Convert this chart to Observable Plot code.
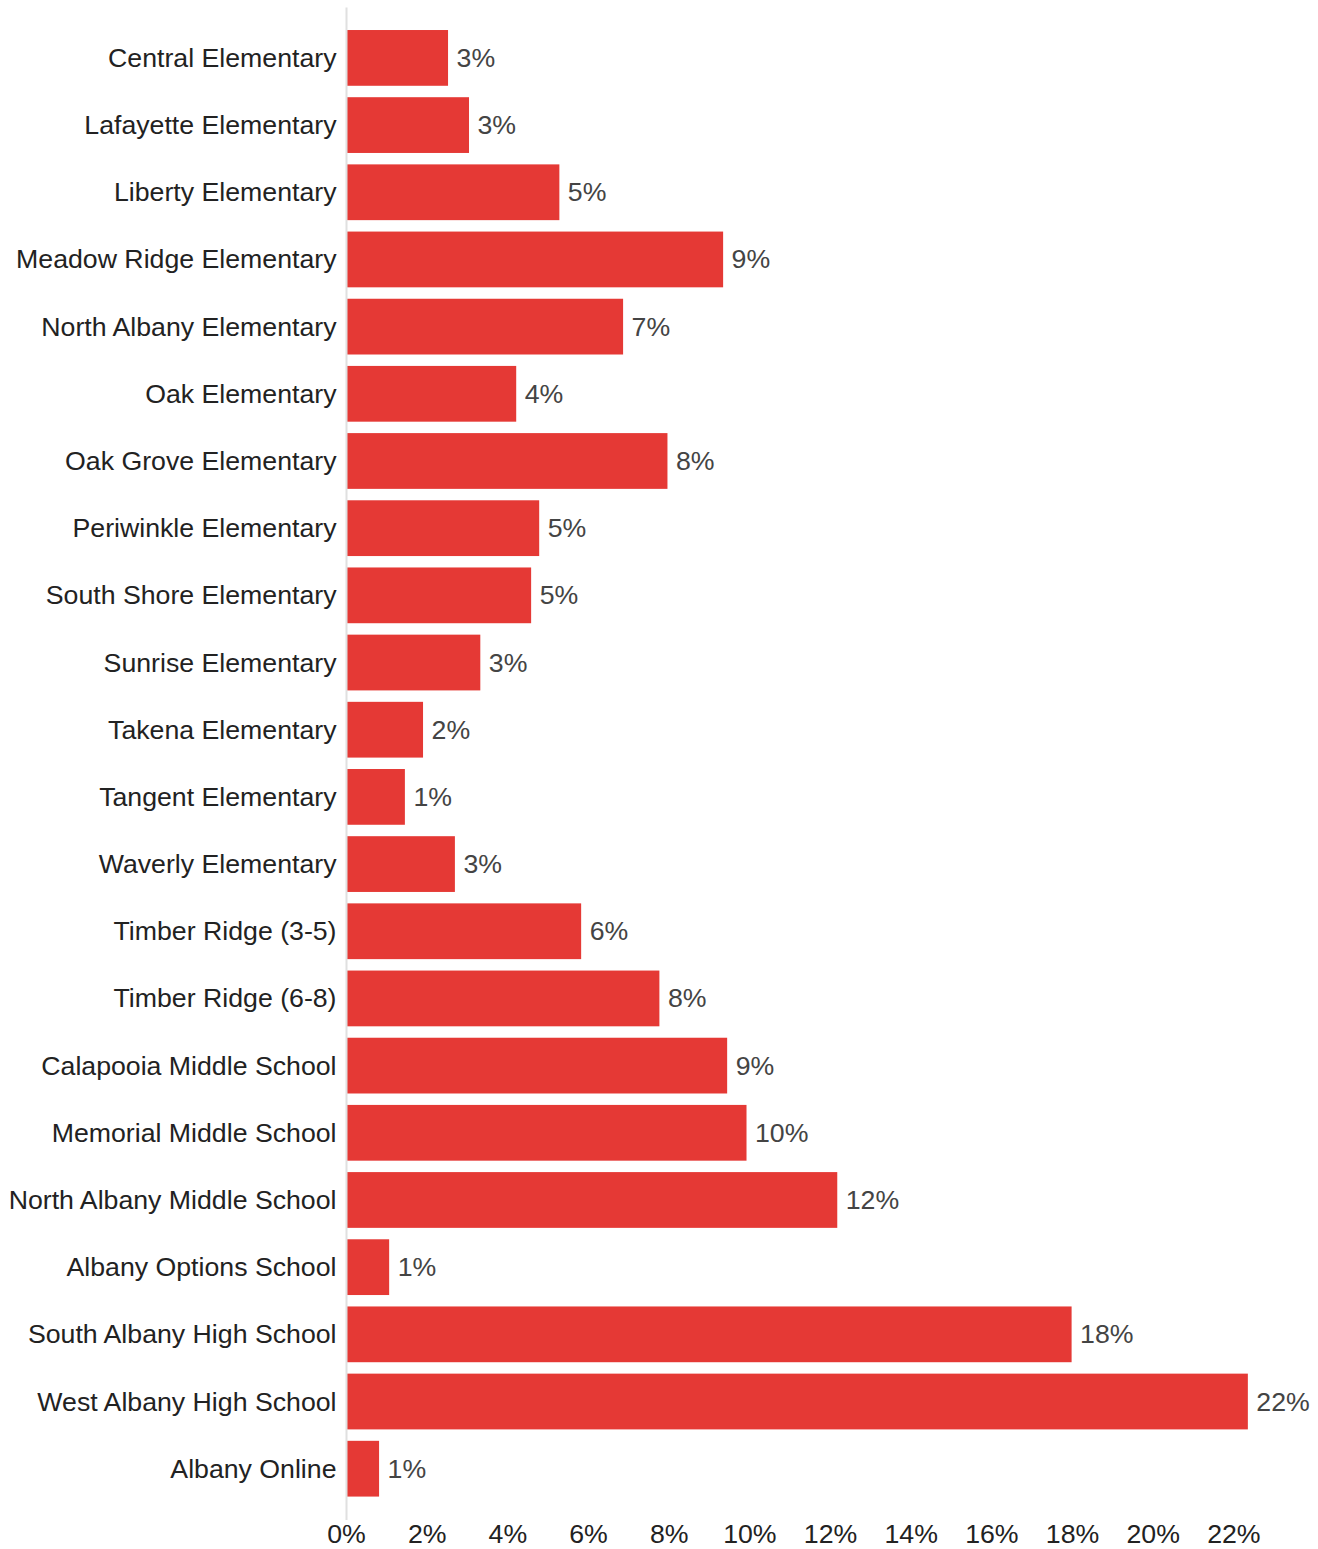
<!DOCTYPE html>
<html>
<head>
<meta charset="utf-8">
<script src="https://cdn.jsdelivr.net/npm/d3@7"></script>
<script src="https://cdn.jsdelivr.net/npm/@observablehq/plot@0.6"></script>
<style>
  body { margin: 0; background: #fff; }
  #chart svg { font-family: "Liberation Sans", Arial, sans-serif; }
</style>
</head>
<body>
<div id="chart"></div>
<script>
const schools = [
  "Central Elementary", "Lafayette Elementary", "Liberty Elementary",
  "Meadow Ridge Elementary", "North Albany Elementary", "Oak Elementary",
  "Oak Grove Elementary", "Periwinkle Elementary", "South Shore Elementary",
  "Sunrise Elementary", "Takena Elementary", "Tangent Elementary",
  "Waverly Elementary", "Timber Ridge (3-5)", "Timber Ridge (6-8)",
  "Calapooia Middle School", "Memorial Middle School", "North Albany Middle School",
  "Albany Options School", "South Albany High School", "West Albany High School",
  "Albany Online"
];
const percents = [
  2.53, 3.05, 5.29, 9.35, 6.87, 4.22, 7.97, 4.79, 4.59, 3.33, 1.91, 1.46,
  2.70, 5.83, 7.77, 9.45, 9.93, 12.18, 1.07, 17.99, 22.36, 0.82
];
const xTicks = [0, 2, 4, 6, 8, 10, 12, 14, 16, 18, 20, 22];

const data = schools.map((s, i) => ({school: s, pct: percents[i]}));

const chart = Plot.plot({
  width: 1318,
  height: 1549,
  marginLeft: 346,
  marginRight: 4,
  marginTop: 18.6,
  marginBottom: 41,
  style: {fontSize: "26.7px", fontFamily: "'Liberation Sans', Arial, sans-serif", background: "#fff"},
  x: {domain: [0, 24], ticks: xTicks, tickFormat: d => d + "%", label: null},
  y: {domain: schools, padding: 0.17, round: false, label: null},
  marks: [
    Plot.barX(data, {y: "school", x: "pct", fill: "#E53935"}),
    Plot.ruleX([0], {stroke: "#e0e0e0", strokeWidth: 2, insetTop: -11, insetBottom: -12}),
    Plot.text(data, {y: "school", x: "pct", text: d => Math.round(d.pct) + "%", textAnchor: "start", dx: 8, fill: "#444", fontSize: 26.7}),
    Plot.axisY({tickSize: 0, tickPadding: 10, fontSize: 26.7, color: "#222", label: null}),
    Plot.axisX({ticks: xTicks, tickFormat: d => d + "%", tickSize: 0, tickPadding: 16, fontSize: 26.7, color: "#222", label: null})
  ]
});
document.getElementById("chart").appendChild(chart);
</script>
</body>
</html>
